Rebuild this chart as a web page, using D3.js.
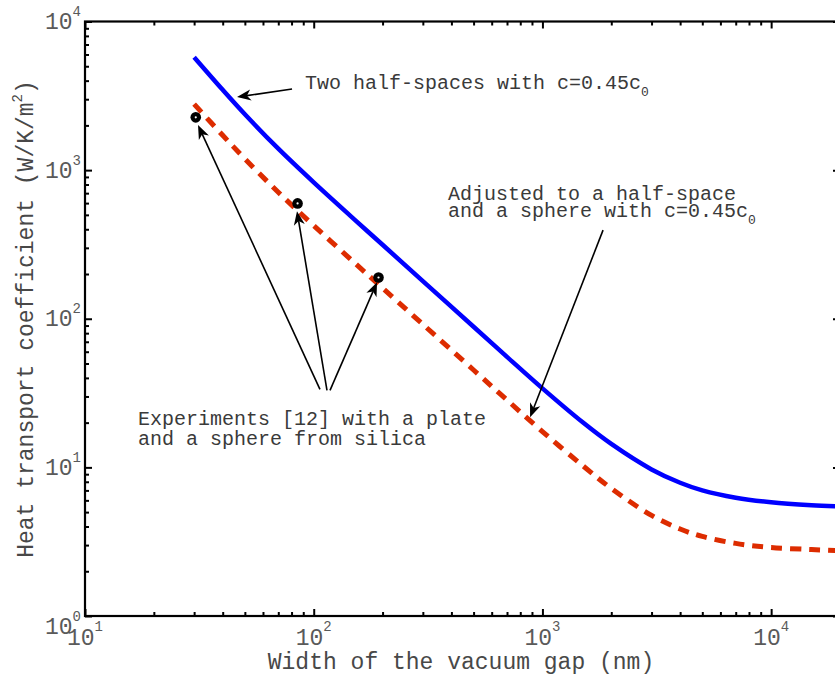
<!DOCTYPE html>
<html>
<head>
<meta charset="utf-8">
<script src="https://cdn.jsdelivr.net/npm/d3@7"></script>
<style>
  body { margin: 0; background: #fff; }
  text { font-family: "Liberation Mono", "Courier New", monospace; }
</style>
</head>
<body>
<svg width="835" height="676"></svg>
<script>
// gap width (nm) and heat transport coefficient (W/K/m^2)
var gap = [30, 40, 50, 70, 100, 150, 200, 300, 500, 700, 1000, 1500, 2000, 3000, 4000, 5000, 7000, 10000, 15000, 20000];
// two half-spaces, c = 0.45 c0
var hBlue = [5750, 3468, 2376, 1394, 827.5, 468.6, 314.5, 179.2, 88.3, 55.4, 34.0, 20.1, 14.38, 9.69, 7.88, 7.00, 6.25, 5.82, 5.56, 5.45];
// half-space and sphere, c = 0.45 c0
var hRed = [2782, 1715, 1192, 710, 423.6, 239.8, 160.9, 91.7, 45.2, 28.4, 17.4, 10.28, 7.22, 4.75, 3.85, 3.43, 3.08, 2.89, 2.80, 2.75];

// experiments [12]
var gapExp = [30.5, 85, 192];
var hExp   = [2265, 597, 189.5];

var xDecades = [10, 100, 1000, 10000];
var yDecades = [1, 10, 100, 1000, 10000];
var xExp = ["1", "2", "3", "4"];
var yExp = ["0", "1", "2", "3", "4"];

// annotation arrows, [from, to] in data units
var arrows = [
  [[80.4, 3512], [46.2, 3101]],
  [[1841, 394.5], [883, 21.7]],
  [[106.5, 33.5], [31.2, 2010]],
  [[114.3, 33.0], [84.5, 529.7]],
  [[117.8, 33.0], [189.2, 176.1]]
];

var svg = d3.select("svg");

var x = d3.scaleLog().domain([10, 20000]).range([85, 840]);
var y = d3.scaleLog().domain([1, 10000]).range([616, 21.5]);

var minorX = [];
xDecades.forEach(function(d) {
  for (var k = 2; k <= 9; k++) if (d * k <= 20000) minorX.push(d * k);
});
var minorY = [];
yDecades.slice(0, 4).forEach(function(d) {
  for (var k = 2; k <= 9; k++) minorY.push(d * k);
});

// ticks on all four sides, pointing in
function ticks(axis, vals, size, tx) {
  var g = svg.append("g")
    .attr("transform", tx)
    .call(axis.tickValues(vals).tickSize(size).tickSizeOuter(0).tickFormat(""));
  g.select(".domain").remove();
  g.selectAll("line").attr("stroke", "#000").attr("stroke-width", 2);
}
ticks(d3.axisBottom(x), xDecades, -7, "translate(0,616)");
ticks(d3.axisBottom(x), minorX, -4, "translate(0,616)");
ticks(d3.axisTop(x), xDecades, -7, "translate(0,21.5)");
ticks(d3.axisTop(x), minorX, -4, "translate(0,21.5)");
ticks(d3.axisLeft(y), yDecades, -7, "translate(85,0)");
ticks(d3.axisLeft(y), minorY, -4, "translate(85,0)");
ticks(d3.axisRight(y), yDecades, -7, "translate(840,0)");
ticks(d3.axisRight(y), minorY, -4, "translate(840,0)");

svg.append("rect")
  .attr("x", 85).attr("y", 21.5)
  .attr("width", 755).attr("height", 594.5)
  .attr("fill", "none").attr("stroke", "#000").attr("stroke-width", 2.2);

// tick labels
var xl = svg.append("g").selectAll("text")
  .data(xDecades).enter().append("text")
  .attr("x", function(d) { return x(d); })
  .attr("y", 645)
  .attr("text-anchor", "middle")
  .attr("fill", "#5a5a5a")
  .style("font-size", "23px");
xl.append("tspan").text("10");
xl.append("tspan").attr("dy", -14).style("font-size", "14px")
  .text(function(d, i) { return xExp[i]; });

var yl = svg.append("g").selectAll("text")
  .data(yDecades).enter().append("text")
  .attr("x", 81)
  .attr("y", function(d) { return y(d) + (d == 1 ? 18 : 7.5); })
  .attr("text-anchor", "end")
  .attr("fill", "#5a5a5a")
  .style("font-size", "23px");
yl.append("tspan").text("10");
yl.append("tspan").attr("dy", -13).style("font-size", "14px")
  .text(function(d, i) { return yExp[i]; });

// axis titles
svg.append("text")
  .attr("x", 461).attr("y", 669)
  .attr("text-anchor", "middle")
  .attr("fill", "#484848")
  .style("font-size", "23px")
  .text("Width of the vacuum gap (nm)");

var yt = svg.append("text")
  .attr("transform", "translate(33,319) rotate(-90)")
  .attr("text-anchor", "middle")
  .attr("fill", "#484848")
  .style("font-size", "23px");
yt.append("tspan").text("Heat transport coefficient (W/K/m");
yt.append("tspan").attr("dy", -11).style("font-size", "14px").text("2");
yt.append("tspan").attr("dy", 11).text(")");

// curves
var line = d3.line()
  .x(function(d) { return x(d[0]); })
  .y(function(d) { return y(d[1]); })
  .curve(d3.curveCatmullRom);

svg.append("path")
  .datum(d3.zip(gap, hBlue))
  .attr("d", line)
  .attr("fill", "none")
  .attr("stroke", "#0000ff")
  .attr("stroke-width", 4.5);

svg.append("path")
  .datum(d3.zip(gap, hRed))
  .attr("d", line)
  .attr("fill", "none")
  .attr("stroke", "#dd2c00")
  .attr("stroke-width", 5)
  .attr("stroke-dasharray", "11,8");

// experimental points
var pts = svg.append("g").selectAll("g")
  .data(d3.zip(gapExp, hExp)).enter().append("g")
  .attr("transform", function(d) { return "translate(" + x(d[0]) + "," + y(d[1]) + ")"; });
pts.append("circle").attr("r", 5.3).attr("fill", "#000");
pts.append("circle").attr("r", 1.1).attr("fill", "#fff");

// arrows
arrows.forEach(function(a) {
  var x0 = x(a[0][0]), y0 = y(a[0][1]), x1 = x(a[1][0]), y1 = y(a[1][1]);
  var ang = Math.atan2(y1 - y0, x1 - x0);
  var len = 14, half = 5.5, notch = 10;
  var c = Math.cos(ang), s = Math.sin(ang);
  svg.append("line")
    .attr("x1", x0).attr("y1", y0)
    .attr("x2", x1 - c * notch).attr("y2", y1 - s * notch)
    .attr("stroke", "#000").attr("stroke-width", 1.6);
  var p = [
    [x1, y1],
    [x1 - c * len - s * half, y1 - s * len + c * half],
    [x1 - c * notch, y1 - s * notch],
    [x1 - c * len + s * half, y1 - s * len - c * half]
  ];
  svg.append("path")
    .attr("d", "M" + p.join("L") + "Z")
    .attr("fill", "#000");
});

// annotation texts
var t1 = svg.append("text")
  .attr("x", x(91.6)).attr("y", y(3512))
  .attr("fill", "#3a3a3a").style("font-size", "20px");
t1.append("tspan").text("Two half-spaces with c=0.45c");
t1.append("tspan").attr("dy", 7).style("font-size", "13px").text("0");

svg.append("text")
  .attr("x", x(386.5)).attr("y", y(628))
  .attr("fill", "#3a3a3a").style("font-size", "20px")
  .text("Adjusted to a half-space");
var t3 = svg.append("text")
  .attr("x", x(386.5)).attr("y", y(482.6))
  .attr("fill", "#3a3a3a").style("font-size", "20px");
t3.append("tspan").text("and a sphere with c=0.45c");
t3.append("tspan").attr("dy", 7).style("font-size", "13px").text("0");

svg.append("text")
  .attr("x", x(17.05)).attr("y", y(19.2))
  .attr("fill", "#3a3a3a").style("font-size", "20px")
  .text("Experiments [12] with a plate");
svg.append("text")
  .attr("x", x(17.05)).attr("y", y(14.06))
  .attr("fill", "#3a3a3a").style("font-size", "20px")
  .text("and a sphere from silica");
</script>
</body>
</html>
